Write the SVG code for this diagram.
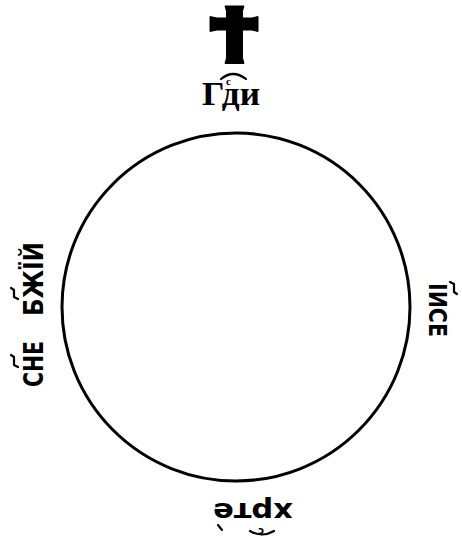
<svg xmlns="http://www.w3.org/2000/svg" width="462" height="536" viewBox="0 0 462 536">
<style>
.sans{font-family:"DejaVu Sans","Liberation Sans",sans-serif;font-weight:bold;fill:#000}
.serif{font-family:"Liberation Serif","DejaVu Serif",serif;font-weight:bold;fill:#000}
.mark{fill:none;stroke:#000;stroke-width:2.2;stroke-linecap:round;stroke-linejoin:round}
</style>
<rect width="462" height="536" fill="#fff"/>
<g id="circle">
<circle cx="236" cy="307" r="174" fill="none" stroke="#000" stroke-width="3"/>
</g>
<g id="top">
<path d="M225,6 H244 L242.5,11 V18 H252 L258,16.5 V31.5 L252,30 H242.5 V58 L244,63.5 H225 L226.5,58 V30 H217 L210,31.5 V16.5 L217,18 H226.5 V11 Z" fill="#000" stroke="#000" stroke-width="1" stroke-linejoin="round"/>
<text class="serif" x="202" y="105" font-size="33" textLength="58" lengthAdjust="spacingAndGlyphs">Гди</text>
<text class="serif" x="228.5" y="85" font-size="11" text-anchor="middle">с</text>
<path class="mark" d="M221,79 Q233,69 246,79" stroke-width="2.5"/>
</g>
<g id="left">
<g transform="rotate(-90)">
<text class="sans" x="-387" y="43" font-size="27" textLength="46" lengthAdjust="spacingAndGlyphs">СНЕ</text>
<text class="sans" x="-316" y="43" font-size="27" textLength="74" lengthAdjust="spacingAndGlyphs">БЖЇЙ</text>
</g>
<path class="mark" d="M18,367 L14,365 L14,357 L11,355"/>
<path class="mark" d="M18,299 L14,297 L14,290 L11,288"/>
</g>
<g id="right">
<g transform="rotate(90)">
<text class="sans" x="283" y="-429" font-size="25" textLength="54" lengthAdjust="spacingAndGlyphs">ІИСЕ</text>
</g>
<path class="mark" d="M450,282 L454,284 L454,292 L457,294"/>
</g>
<g id="bottom">
<text class="sans" x="253" y="517" font-size="26" text-anchor="middle" textLength="80" lengthAdjust="spacingAndGlyphs" transform="rotate(180 253 510)">хрте</text>
<text class="sans" x="261" y="522" font-size="10" text-anchor="middle" transform="rotate(180 261 525)">с</text>
<path class="mark" d="M250,531 Q262,538 274,531"/>
<path class="mark" d="M218,525 L222,530"/>
</g>
</svg>
